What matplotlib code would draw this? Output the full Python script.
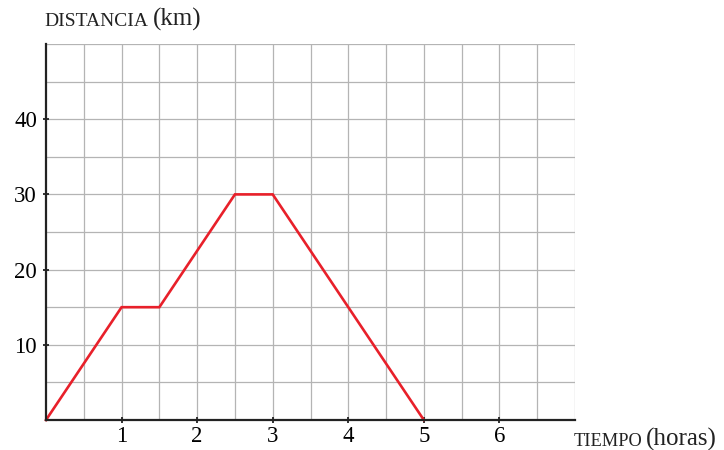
import matplotlib.pyplot as plt
import numpy as np

# tiempo (horas) y distancia (km)
tiempo = [0, 1, 1.5, 2.5, 3, 5]
distancia = [0, 15, 15, 30, 30, 0]

x_ticks = [1, 2, 3, 4, 5, 6]
y_ticks = [10, 20, 30, 40]

plt.rcParams['font.family'] = ['Liberation Serif', 'DejaVu Serif']

fig = plt.figure(figsize=(7.24, 4.5), dpi=100)
ax = fig.add_axes([46 / 724, 30 / 450, 529 / 724, 376 / 450])

ax.set_xlim(0, 7)
ax.set_ylim(0, 50)

# grid every half hour / 5 km
for xv in np.arange(0.5, 7.01, 0.5):
    ax.axvline(xv, color='#b4b4b4', linewidth=0.9, zorder=0)
for yv in np.arange(5, 50.01, 5):
    ax.axhline(yv, color='#b4b4b4', linewidth=0.9, zorder=0)

ax.set_xticks(x_ticks)
ax.set_yticks(y_ticks)
ax.tick_params(which='major', direction='inout', length=5, width=1.3,
               color='#222222', labelsize=16.5, pad=2)
ax.tick_params(axis='y', pad=4)

ax.plot(tiempo, distancia, color='#e8202a', linewidth=1.9, solid_joinstyle='miter',
        zorder=3, clip_on=False)

for s in ['left', 'bottom']:
    ax.spines[s].set_color('#222222')
    ax.spines[s].set_linewidth(1.6)
    ax.spines[s].set_zorder(4)
for s in ['top', 'right']:
    ax.spines[s].set_visible(False)

fig.text(44 / 724, 1 - 26 / 450, 'DISTANCIA', fontsize=14, color='#222222', va='baseline')
fig.text(153 / 724, 1 - 26 / 450, '(km)', fontsize=18, color='#222222', va='baseline')
fig.text(574 / 724, 1 - 446 / 450, 'TIEMPO', fontsize=13.2, color='#222222', va='baseline')
fig.text(646 / 724, 1 - 446 / 450, '(horas)', fontsize=18, color='#222222', va='baseline')

fig.savefig('out.png', dpi=100)
